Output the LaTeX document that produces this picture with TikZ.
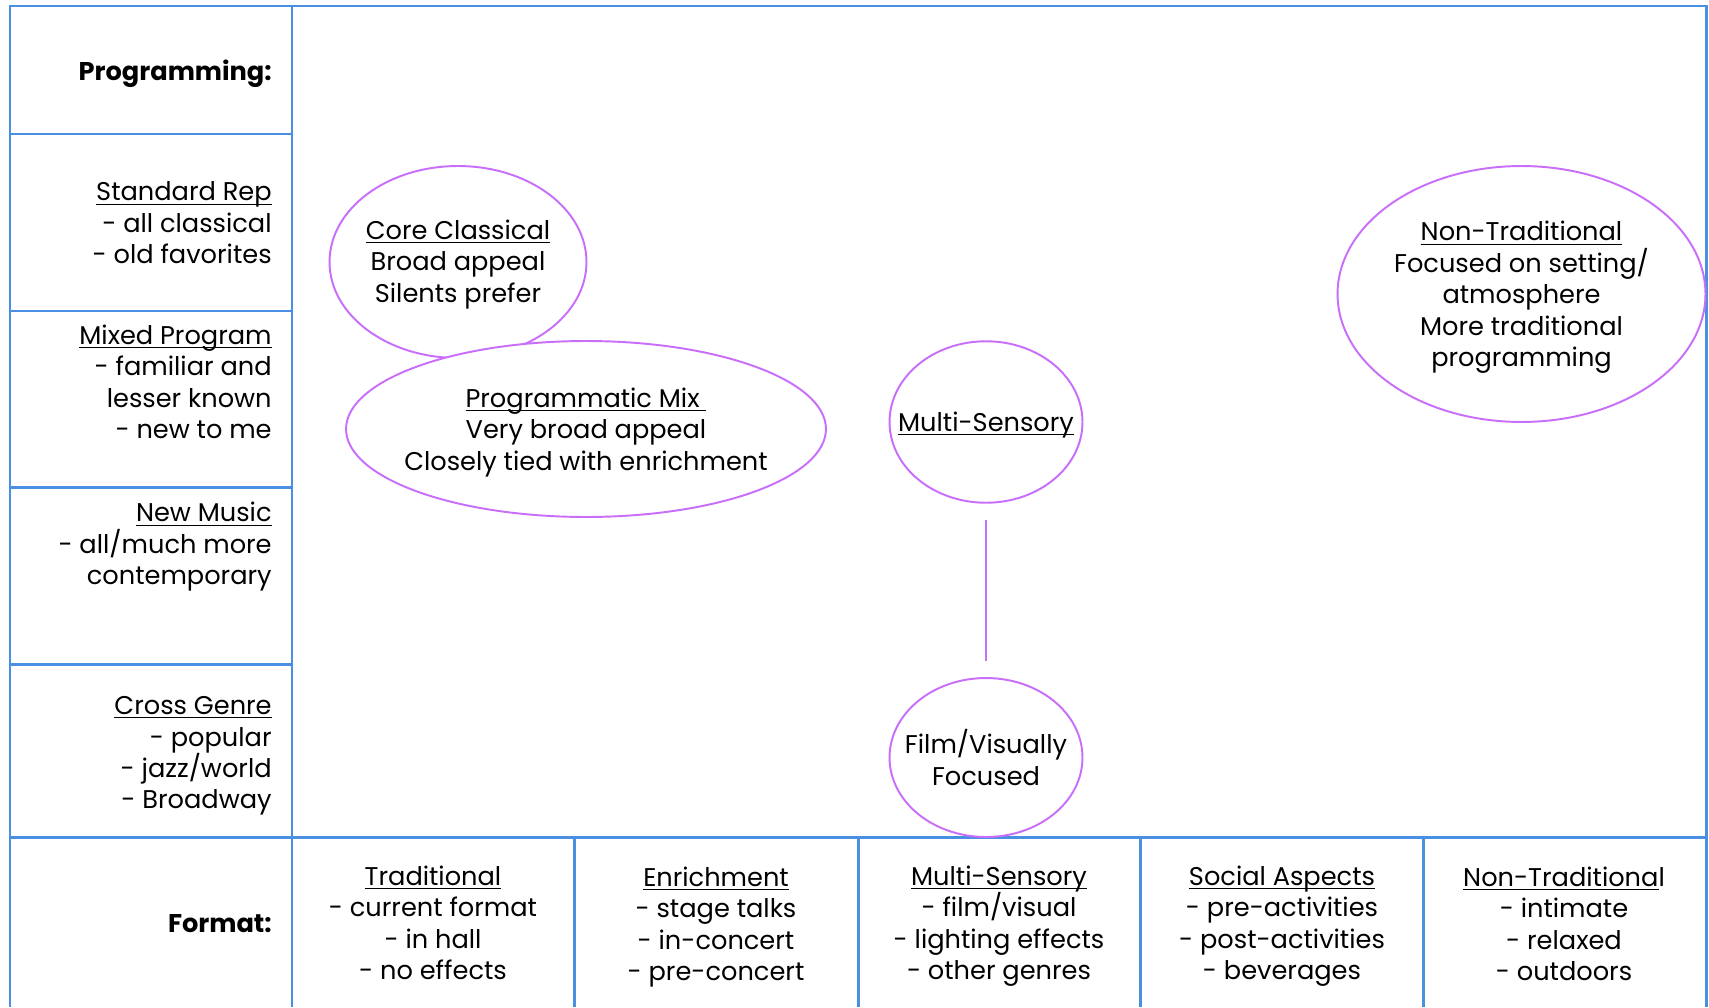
\documentclass[tikz,border=0pt]{standalone}
\usepackage{fontspec}
\setmainfont{Poppins}
\usetikzlibrary{shapes.geometric}
\definecolor{gridBlue}{RGB}{74,144,226}
\definecolor{bubblePurple}{RGB}{200,110,250}
% thin rule just under the baseline, without changing the line depth
\newcommand\ulabel[1]{\leavevmode\setbox0\hbox{#1}\rlap{\rule[-2.2pt]{\wd0}{0.7pt}}\box0}
\tikzset{
    base/.style={font=\fontsize{14.6}{17.9}\selectfont, align=center, inner sep=0pt},
    rule/.style={draw=gridBlue, line width=1.7pt},
    rowlabel/.style={base, anchor=east, align=right},
    heading/.style={rowlabel, font=\fontsize{14.6}{17.9}\selectfont\bfseries},
    bubble/.style={ellipse, draw=bubblePurple, line width=1.1pt, fill=white, inner sep=0pt},
    link/.style={draw=bubblePurple, line width=1.1pt, shorten >=0.32cm, shorten <=0.32cm}
}

\begin{document}
\begin{tikzpicture}[x=0.02cm, y=-0.02cm]
  \useasboundingbox (0,0) rectangle (1709,1007);

  % table rules
  \draw[rule] (10,1007) -- (10,6) -- (1706,6) -- (1706,1007);
  \draw[rule] (292,6) -- (292,1007);
  \foreach \y in {134,311,487,664}
    \draw[rule] (10,\y) -- (292,\y);
  \draw[rule] (10,837) -- (1706,837);
  \foreach \x in {574,858,1140,1423}
    \draw[rule] (\x,837) -- (\x,1007);

  % programming axis
  \node[heading] (programming) at (272,74) {Programming:};
  \node[rowlabel] (standard) at (272,223) {\ulabel{Standard Rep}\\- all classical\\- old favorites};
  \node[rowlabel] (mixed) at (272,382) {\ulabel{Mixed Program}\\- familiar and\\lesser known\\- new to me};
  \node[rowlabel] (newmusic) at (272,547) {\ulabel{New Music}\\- all/much more\\contemporary};
  \node[rowlabel] (crossgenre) at (272,756) {\ulabel{Cross Genre}\\- popular\\- jazz/world\\- Broadway};

  % format axis
  \node[heading] (format) at (272,924) {Format:};
  \node[base] (traditional) at (433,923) {\ulabel{Traditional}\\- current format\\- in hall\\- no effects};
  \node[base] (enrichment) at (716,927) {\ulabel{Enrichment}\\- stage talks\\- in-concert\\- pre-concert};
  \node[base] (sensoryCol) at (999,926) {\ulabel{Multi-Sensory}\\- film/visual\\- lighting effects\\- other genres};
  \node[base] (social) at (1282,926) {\ulabel{Social Aspects}\\- pre-activities\\- post-activities\\- beverages};
  \node[base] (nontradCol) at (1564,924) {\ulabel{Non-Traditiona}l\\- intimate\\- relaxed\\- outdoors};

  % concert types
  \node[bubble, minimum width=5.14cm, minimum height=3.84cm] (core) at (458,262) {};
  \node[base] (coreText) at ([yshift=-0.05cm]core.center) {\ulabel{Core Classical}\\Broad appeal\\Silents prefer};
  \node[bubble, minimum width=9.6cm, minimum height=3.52cm] (mix) at (586,429) {};
  \node[base] (mixText) at ([yshift=-0.07cm]mix.center) {\ulabel{Programmatic Mix~}\\Very broad appeal\\Closely tied with enrichment};
  \node[bubble, minimum width=3.86cm, minimum height=3.23cm] (multi) at (986,422) {};
  \node[base] (multiText) at ([yshift=-0.06cm]multi.center) {\ulabel{Multi-Sensory}};
  \node[bubble, minimum width=3.86cm, minimum height=3.18cm] (film) at (986,757.5) {};
  \node[base] (filmText) at (film) {Film/Visually\\Focused};
  \node[bubble, minimum width=7.36cm, minimum height=5.12cm] (nontrad) at (1521.5,294) {};
  \node[base] (nontradText) at ([yshift=-0.07cm]nontrad.center) {\ulabel{Non-Traditional}\\Focused on setting/\\atmosphere\\More traditional\\programming};

  \draw[link] (multi) -- (film);
\end{tikzpicture}
\end{document}
